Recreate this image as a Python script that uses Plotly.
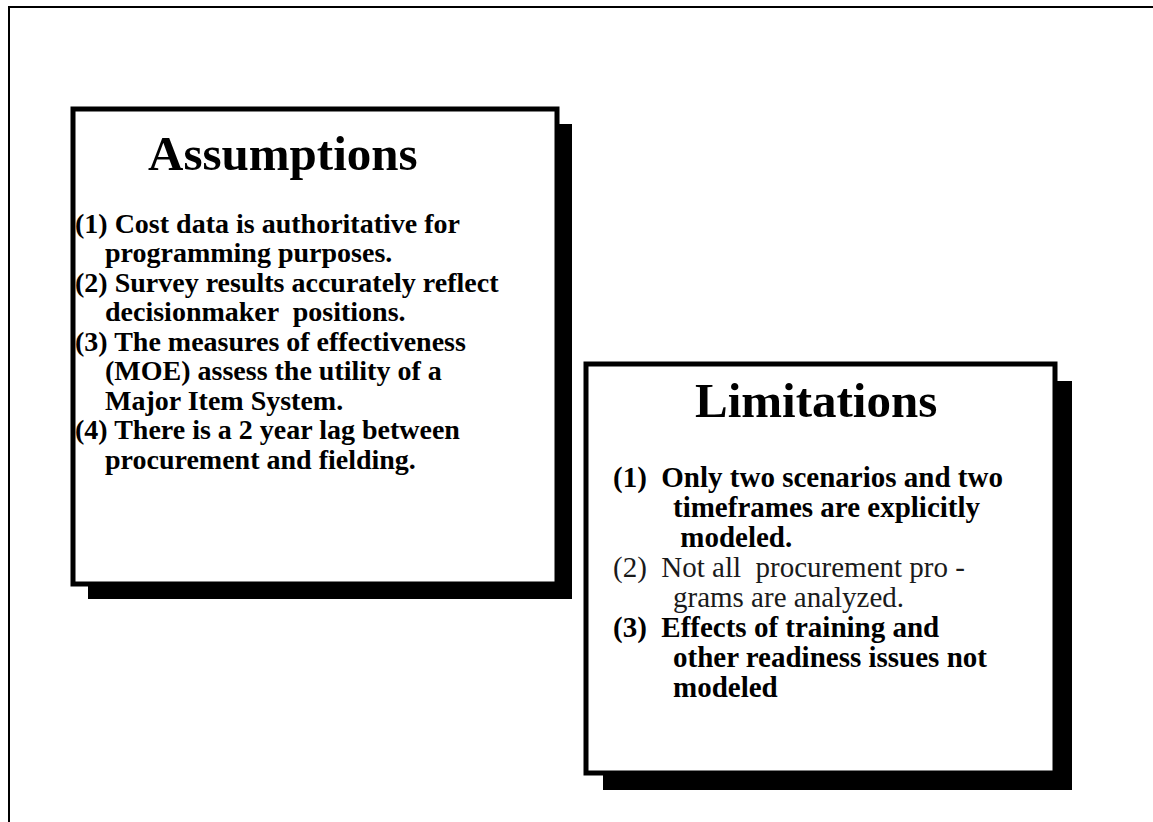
import plotly.graph_objects as go

# ---- content ----
assump_title = "Assumptions"
assump_lines = [
    "(1) Cost data is authoritative for",
    "programming purposes.",
    "(2) Survey results accurately reflect",
    "decisionmaker  positions.",
    "(3) The measures of effectiveness",
    "(MOE) assess the utility of a",
    "Major Item System.",
    "(4) There is a 2 year lag between",
    "procurement and fielding.",
]
assump_indent = [0, 1, 0, 1, 0, 1, 1, 0, 1]

limit_title = "Limitations"
limit_lines = [
    "(1)  Only two scenarios and two",
    "timeframes are explicitly",
    " modeled.",
    "(2)  Not all  procurement pro -",
    "grams are analyzed.",
    "(3)  Effects of training and",
    "other readiness issues not",
    "modeled",
]
limit_indent = [0, 1, 1, 0, 1, 0, 1, 1]
limit_bold = [1, 1, 1, 0, 0, 1, 1, 1]

W, H = 1153, 822
FONT = "Liberation Serif, Times New Roman, serif"

fig = go.Figure()
shapes = []
ann = []

# outer frame (top and left edges)
shapes.append(dict(type="line", x0=8, y0=7, x1=W, y1=7, line=dict(color="black", width=2)))
shapes.append(dict(type="line", x0=9, y0=7, x1=9, y1=H, line=dict(color="black", width=2)))


def box(x0, y0, x1, y1, off):
    shapes.append(dict(type="rect", x0=x0 + off, y0=y0 + off, x1=x1 + off, y1=y1 + off,
                       fillcolor="black", line=dict(width=0)))
    shapes.append(dict(type="rect", x0=x0, y0=y0, x1=x1, y1=y1,
                       fillcolor="white", line=dict(color="black", width=5)))


box(73, 109, 557, 584, 15)
box(586, 364, 1055, 773, 17)

# Assumptions box text
ann.append(dict(x=283, y=153, text="<b>" + assump_title + "</b>", showarrow=False,
                xanchor="center", yanchor="middle",
                font=dict(family=FONT, size=49, color="black")))
y = 223
for line, ind in zip(assump_lines, assump_indent):
    ann.append(dict(x=73 + 30 * ind, y=y, text="<b>" + line + "</b>", showarrow=False,
                    xanchor="left", yanchor="middle",
                    font=dict(family=FONT, size=28, color="black")))
    y += 29.5

# Limitations box text
ann.append(dict(x=816, y=400, text="<b>" + limit_title + "</b>", showarrow=False,
                xanchor="center", yanchor="middle",
                font=dict(family=FONT, size=49, color="black")))
y = 477
for line, ind, b in zip(limit_lines, limit_indent, limit_bold):
    txt = "<b>" + line + "</b>" if b else line
    ann.append(dict(x=611 + 60 * ind, y=y, text=txt, showarrow=False,
                    xanchor="left", yanchor="middle",
                    font=dict(family=FONT, size=29,
                              color="black" if b else "#1a1a1a")))
    y += 30

fig.update_layout(
    width=W, height=H, margin=dict(l=0, r=0, t=0, b=0),
    paper_bgcolor="white", plot_bgcolor="white",
    xaxis=dict(range=[0, W], visible=False, fixedrange=True),
    yaxis=dict(range=[H, 0], visible=False, fixedrange=True),
    shapes=shapes, annotations=ann, showlegend=False,
)
fig.write_html("out.html", config={"displayModeBar": False, "staticPlot": True},
               post_script="document.body.style.margin='0';document.body.style.overflow='hidden';")
